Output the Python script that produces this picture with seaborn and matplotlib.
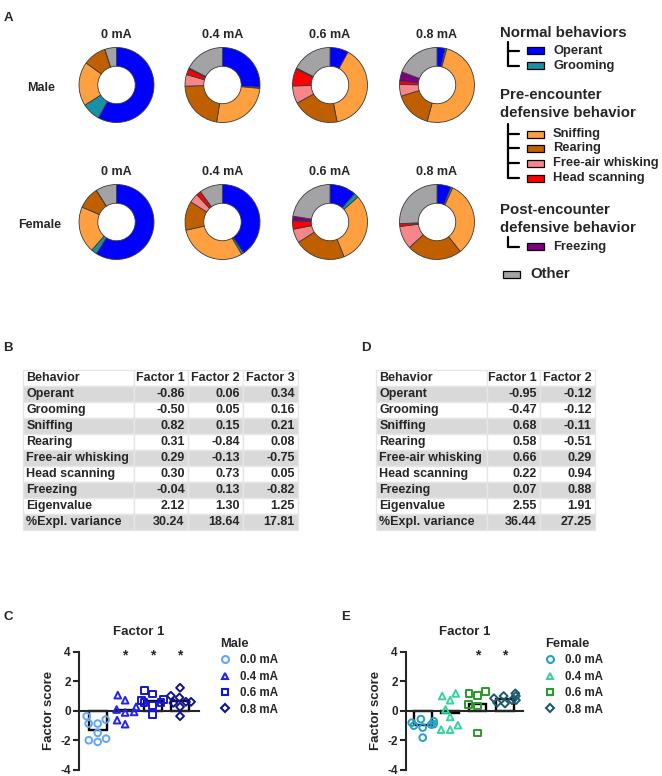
import numpy as np
import pandas as pd
import matplotlib
matplotlib.use("Agg")
import matplotlib.pyplot as plt
from matplotlib.lines import Line2D
from matplotlib.patches import Rectangle
import seaborn as sns

sns.set_style("ticks")
plt.rcParams['font.family'] = ['Liberation Sans', 'DejaVu Sans']
plt.rcParams['font.weight'] = 'bold'
plt.rcParams['axes.unicode_minus'] = False

W, H = 662, 776

# ---- panel A: % time spent in each behavior ----
behaviors = ["Operant", "Grooming", "Sniffing", "Rearing", "Free-air whisking",
             "Head scanning", "Freezing", "Other"]
behavior_colors = ["#0000FF", "#1A90A6", "#FFA040", "#BF5F00", "#F7868A",
                   "#FF0000", "#800080", "#A3A3A6"]
shock_levels = ["0 mA", "0.4 mA", "0.6 mA", "0.8 mA"]

male_0 = [58, 8, 19, 10, 0, 0, 0, 5]
male_04 = [26, 0.5, 26, 22, 5, 2.5, 0.5, 17.5]
male_06 = [8, 0, 39, 20, 7.6, 7.4, 0.5, 17.5]
male_08 = [3.5, 0.7, 50, 16, 5, 1.5, 4, 19.3]
female_0 = [59, 2.5, 20, 9.5, 0, 0, 0, 9]
female_04 = [40.5, 1, 30, 12.5, 4, 2, 0, 10]
female_06 = [11.4, 2, 30.5, 22, 6, 3.6, 2, 22.5]
female_08 = [6.1, 0.8, 32.5, 23.7, 10, 1.2, 0, 25.7]

# ---- panels B / D: factor loadings ----
table_rows = ["Operant", "Grooming", "Sniffing", "Rearing", "Free-air whisking",
              "Head scanning", "Freezing", "Eigenvalue", "%Expl. variance"]
male_f1 = [-0.86, -0.50, 0.82, 0.31, 0.29, 0.30, -0.04, 2.12, 30.24]
male_f2 = [0.06, 0.05, 0.15, -0.84, -0.13, 0.73, 0.13, 1.30, 18.64]
male_f3 = [0.34, 0.16, 0.21, 0.08, -0.75, 0.05, -0.82, 1.25, 17.81]
female_f1 = [-0.95, -0.47, 0.68, 0.58, 0.66, 0.22, 0.07, 2.55, 36.44]
female_f2 = [-0.12, -0.12, -0.11, -0.51, 0.29, 0.94, 0.88, 1.91, 27.25]

# ---- panels C / E: factor 1 scores ----
doses = ["0.0 mA", "0.4 mA", "0.6 mA", "0.8 mA"]
dose_markers = ["o", "^", "s", "D"]
male_s00 = [-0.36, -0.59, -0.86, -0.86, -1.49, -1.88, -1.99, -2.10]
male_s04 = [1.06, 0.72, -0.07, 0.09, 0.27, -0.11, -0.90, -0.63]
male_s06 = [1.38, 1.15, 0.75, 0.72, 0.55, 0.55, 0.35, -0.25]
male_s08 = [1.56, 1.02, 0.90, 0.61, 0.61, 0.54, 0.27, -0.36]
female_s00 = [-0.56, -0.70, -0.80, -0.90, -0.93, -1.00, -1.13, -1.81]
female_s04 = [1.18, 1.00, 0.72, 0.09, -0.41, -0.97, -1.27, -1.27]
female_s06 = [1.18, 1.33, 1.02, 0.32, 0.45, -1.49]
female_s08 = [1.00, 1.18, 1.00, 0.72, 0.72, 0.50, 0.55, 0.85]
male_sig = [False, True, True, True]
female_sig = [False, False, True, True]
male_colors = ["#5FA8F5", "#2222F2", "#1515D0", "#12128A"]
female_colors = ["#25A0C8", "#35D3A0", "#2A9A2A", "#1C5A6C"]

fig = plt.figure(figsize=(W / 100, H / 100), dpi=100)


def px_axes(x0, y0, x1, y1):
    return fig.add_axes([x0 / W, 1 - y1 / H, (x1 - x0) / W, (y1 - y0) / H])


# overlay for free text / legend of panel A
ov = px_axes(0, 0, W, H)
ov.set_xlim(0, W)
ov.set_ylim(H, 0)
ov.axis('off')

for lbl, x, y in [("A", 8, 18), ("B", 8, 348), ("D", 366, 348), ("C", 8, 617), ("E", 346, 617)]:
    ov.text(x, y, lbl, ha='center', va='center', fontsize=9.5, fontweight='bold')

# donuts
donut_cx = [116.5, 222.5, 330, 437]
for sex, cy, pies in [("Male", 85, [male_0, male_04, male_06, male_08]),
                      ("Female", 222, [female_0, female_04, female_06, female_08])]:
    ov.text(27 if sex == "Male" else 18, cy + 3, sex, ha='left', va='center', fontsize=9)
    for cx, vals, lvl in zip(donut_cx, pies, shock_levels):
        ax = px_axes(cx - 40, cy - 40, cx + 40, cy + 40)
        ax.pie(vals, colors=behavior_colors, startangle=90, counterclock=False,
               wedgeprops=dict(width=0.5, edgecolor='#3a3a3a', linewidth=0.6))
        ax.set_xlim(-1.067, 1.067)
        ax.set_ylim(-1.067, 1.067)
        ax.set_title(lvl, fontsize=9, fontweight='bold', pad=5)

# legend of panel A
legend_groups = [
    (["Normal behaviors"], [33.3], [0, 1], [50.7, 65.7], 41.7),
    (["Pre-encounter", "defensive behavior"], [95, 113.3], [2, 3, 4, 5],
     [134, 148.3, 163.3, 178.3], 124),
    (["Post-encounter", "defensive behavior"], [210, 227.7], [6], [246.7], 236.7),
]
for heads, hy, idx, iy, top in legend_groups:
    for t, y in zip(heads, hy):
        ov.text(500, y, t, ha='left', va='center', fontsize=10.8)
    ov.add_line(Line2D([508, 508], [top, iy[-1]], color='black', lw=1.6))
    for i, y in zip(idx, iy):
        ov.add_line(Line2D([508, 519], [y, y], color='black', lw=1.6))
        ov.add_patch(Rectangle((527, y - 3.5), 16.5, 7, facecolor=behavior_colors[i],
                               edgecolor='black', lw=0.9))
        ov.text(553, y, behaviors[i], ha='left', va='center', fontsize=9.3)
ov.add_patch(Rectangle((503, 270.5), 16.5, 7, facecolor=behavior_colors[7],
                       edgecolor='black', lw=0.9))
ov.text(530, 274, behaviors[7], ha='left', va='center', fontsize=10.8)


# tables
def draw_table(x0, x1, col_labels, cols, col_px):
    ax = px_axes(x0, 370, x1, 530)
    ax.axis('off')
    rows = [["Behavior"] + col_labels]
    for i, r in enumerate(table_rows):
        rows.append([r] + [f"{c[i]:.2f}" for c in cols])
    shade = [['white' if i % 2 == 0 else '#D9D9D9'] * len(rows[0]) for i in range(len(rows))]
    widths = np.array(col_px) / sum(col_px)
    tb = ax.table(cellText=rows, cellColours=shade, colWidths=widths,
                  bbox=[0, 0, 1, 1], cellLoc='right')
    tb.auto_set_font_size(False)
    tb.set_fontsize(9)
    for (r, c), cell in tb.get_celld().items():
        cell.set_edgecolor('#E6E6E6')
        cell.set_linewidth(1)
        cell.get_text().set_fontweight('bold')
        if c == 0:
            cell.get_text().set_ha('left')
            cell.PAD = 0.03
        else:
            cell.PAD = 0.06


draw_table(23, 298, ["Factor 1", "Factor 2", "Factor 3"], [male_f1, male_f2, male_f3],
           [111, 54, 55, 55])
draw_table(376, 595, ["Factor 1", "Factor 2"], [female_f1, female_f2], [110.7, 53.3, 55])


# factor score panels
def factor_panel(x0, x1, xlim, score_lists, colors, sig, sex, leg_x):
    ax = px_axes(x0, 651.7, x1, 770)
    df = pd.DataFrame({'dose': np.repeat(doses, [len(s) for s in score_lists]),
                       'score': np.concatenate(score_lists)})
    sns.barplot(data=df, x='dose', y='score', order=doses, errorbar=None,
                color='white', edgecolor='black', linewidth=1.7, width=0.65,
                zorder=1, ax=ax)
    for d, c, m in zip(doses, colors, dose_markers):
        n0 = len(ax.collections)
        sns.swarmplot(data=df[df.dose == d], x='dose', y='score', order=doses,
                      marker=m, size=4.8 if m != 'D' else 4.0, ax=ax)
        for coll in ax.collections[n0:]:
            coll.set_facecolor('none')
            coll.set_edgecolor(c)
            coll.set_linewidth(1.4)
            coll.set_zorder(4)
    for i, s in enumerate(sig):
        if s:
            ax.text(i, 3.75, '*', ha='center', va='center', fontsize=10)
    ax.set_xlim(*xlim)
    ax.set_ylim(-4, 4)
    ax.set_yticks([-4, -2, 0, 2, 4])
    ax.set_xticks([])
    ax.set_xlabel('')
    ax.set_ylabel('Factor score', fontsize=9.5, fontweight='bold', labelpad=4)
    ax.set_title('Factor 1', fontsize=9.5, fontweight='bold', pad=12)
    ax.spines[['top', 'right']].set_visible(False)
    ax.spines['bottom'].set_position(('data', 0))
    for sp in ['left', 'bottom']:
        ax.spines[sp].set_linewidth(1.5)
    ax.tick_params(axis='y', direction='out', length=4, width=1.5, labelsize=8.5, pad=2)
    handles = [Line2D([], [], ls='none', marker=m, ms=5 if m != 'D' else 4,
                      mfc='none', mec=c, mew=1.5)
               for m, c in zip(dose_markers, colors)]
    fig.legend(handles, doses, title=sex, loc='upper left',
               bbox_to_anchor=(leg_x / W, 1 - 638 / H), frameon=False,
               fontsize=8.3, title_fontsize=9.3, alignment='left',
               handlelength=0.8, handletextpad=0.85, labelspacing=0.38,
               borderpad=0, borderaxespad=0)


factor_panel(79, 199, (-0.68, 3.69), [male_s00, male_s04, male_s06, male_s08],
             male_colors, male_sig, "Male", 220.5)
factor_panel(406, 523.3, (-0.61, 3.67), [female_s00, female_s04, female_s06, female_s08],
             female_colors, female_sig, "Female", 545.5)

fig.savefig("out.png", dpi=100)
